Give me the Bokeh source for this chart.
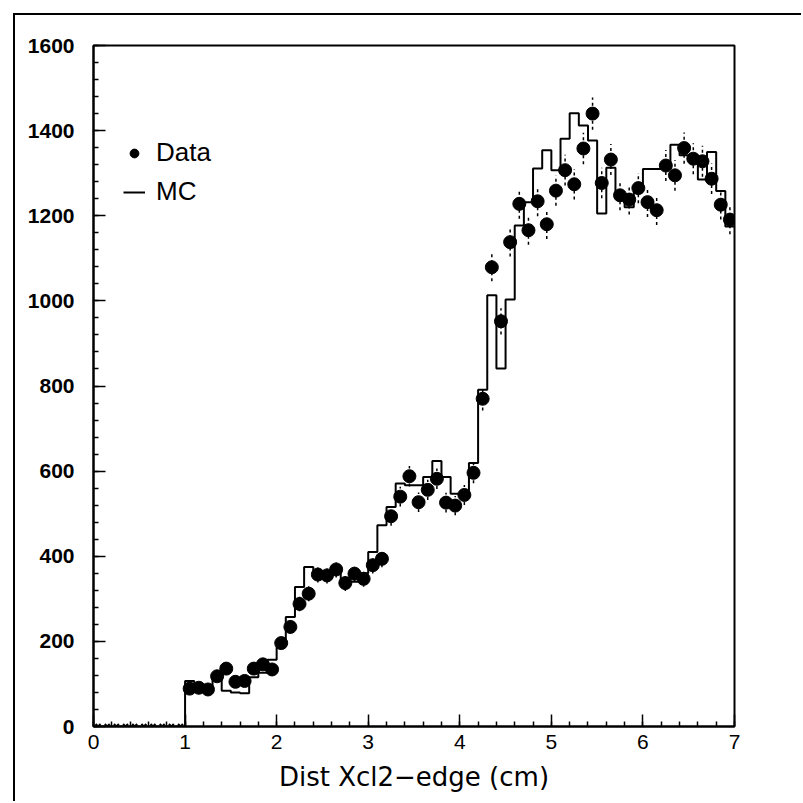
import numpy as np
from bokeh.plotting import figure
from bokeh.models import ColumnDataSource, Legend, LegendItem, FixedTicker, Range1d
from bokeh.embed import file_html
from bokeh.resources import INLINE

# ---- data (bin width 0.1 cm, 0 .. 7 cm) ----
bin_edges = [round(0.1 * i, 1) for i in range(71)]

data_counts = [
    0, 0, 0, 0, 0, 0, 0, 0, 0, 0,
    89, 91, 87, 118, 136, 105, 107, 136, 146, 134,
    196, 234, 288, 312, 357, 355, 369, 337, 359, 347,
    379, 394, 494, 540, 588, 527, 556, 582, 526, 519,
    544, 596, 770, 1079, 952, 1138, 1228, 1166, 1234, 1180,
    1259, 1307, 1274, 1358, 1440, 1277, 1332, 1248, 1238, 1265,
    1232, 1213, 1318, 1295, 1359, 1334, 1328, 1287, 1226, 1191,
]

mc_counts = [
    0, 0, 0, 0, 0, 0, 0, 0, 0, 0,
    107, 100, 90, 112, 84, 80, 78, 116, 126, 157,
    196, 257, 328, 375, 360, 362, 365, 335, 340, 360,
    410, 473, 516, 571, 567, 567, 586, 624, 586, 547,
    549, 619, 791, 1013, 841, 1003, 1177, 1232, 1311, 1354,
    1307, 1381, 1441, 1412, 1377, 1205, 1313, 1250, 1220, 1258,
    1310, 1310, 1310, 1367, 1342, 1340, 1285, 1350, 1258, 1175,
]

x_ticks = [0, 1, 2, 3, 4, 5, 6, 7]
y_ticks = [0, 200, 400, 600, 800, 1000, 1200, 1400, 1600]
x_title = "Dist Xcl2\u2212edge (cm)"

# ---- derived ----
centers = [round((a + b) / 2, 3) for a, b in zip(bin_edges[:-1], bin_edges[1:])]
nz = [i for i, v in enumerate(data_counts) if v > 0]
zz = [i for i, v in enumerate(data_counts) if v == 0]

pts = ColumnDataSource(dict(
    x=[centers[i] for i in nz],
    y=[data_counts[i] for i in nz],
    lo=[data_counts[i] - np.sqrt(data_counts[i]) for i in nz],
    hi=[data_counts[i] + np.sqrt(data_counts[i]) for i in nz],
))
zero_pts = ColumnDataSource(dict(
    x=[centers[i] for i in zz],
    y=[data_counts[i] for i in zz],
))
mc_src = ColumnDataSource(dict(x=bin_edges, y=mc_counts + [mc_counts[-1]]))

FONT = "Liberation Sans"
FONT2 = "DejaVu Sans"

p = figure(
    width=788, height=788,
    x_range=Range1d(0, 7), y_range=Range1d(0, 1600),
    output_backend="svg", toolbar_location=None,
    min_border_left=78, min_border_right=69,
    min_border_top=30, min_border_bottom=77,
)
p.margin = (13, 0, 0, 13)
p.styles = {"border-left": "2px solid black", "border-top": "2px solid black"}

p.grid.visible = False
p.outline_line_color = "black"
p.outline_line_width = 2
p.background_fill_color = "white"
p.border_fill_color = "white"

r_mc = p.step(x="x", y="y", source=mc_src, mode="after", line_color="black", line_width=2)

p.segment(x0="x", y0="lo", x1="x", y1="hi", source=pts, line_color="black",
          line_width=1.5, line_dash="3 3")
r_pts = p.scatter(x="x", y="y", source=pts, size=13, marker="circle",
                  fill_color="black", line_color="black")
p.scatter(x="x", y="y", source=zero_pts, size=7, marker="x",
          line_color="black", line_width=2)

for ax in (p.xaxis[0], p.yaxis[0]):
    ax.axis_line_width = 2
    ax.major_tick_in = 12
    ax.major_tick_out = 0
    ax.minor_tick_in = 5
    ax.minor_tick_out = 0
    ax.major_tick_line_width = 1.5
    ax.minor_tick_line_width = 1.5
    ax.major_label_text_font = FONT
    ax.major_label_text_color = "black"

p.xaxis.ticker = FixedTicker(ticks=x_ticks,
                             minor_ticks=[round(0.2 * i, 1) for i in range(36)])
p.yaxis.ticker = FixedTicker(ticks=y_ticks, minor_ticks=list(range(0, 1601, 40)))
p.xaxis.major_label_text_font_size = "21px"
p.yaxis.major_label_text_font_size = "21px"
p.yaxis.major_label_text_font_style = "bold"
p.xaxis.major_label_standoff = 8
p.yaxis.major_label_standoff = 19

p.xaxis.axis_label = x_title
p.xaxis.axis_label_text_font = FONT2
p.xaxis.axis_label_text_font_style = "normal"
p.xaxis.axis_label_text_font_size = "26px"
p.xaxis.axis_label_text_color = "black"
p.xaxis.axis_label_standoff = 10

legend = Legend(items=[LegendItem(label="Data", renderers=[r_pts]),
                       LegendItem(label="MC", renderers=[r_mc])],
                location=(30, 519))
legend.border_line_alpha = 0
legend.background_fill_alpha = 0
legend.padding = 0
legend.margin = 0
legend.spacing = 8
legend.glyph_width = 22
legend.glyph_height = 30
legend.label_height = 30
legend.label_standoff = 11
legend.label_text_font = FONT
legend.label_text_font_size = "26px"
legend.label_text_color = "black"
legend.label_text_baseline = "middle"
p.add_layout(legend)

open("out.html", "w").write(file_html(p, INLINE))
